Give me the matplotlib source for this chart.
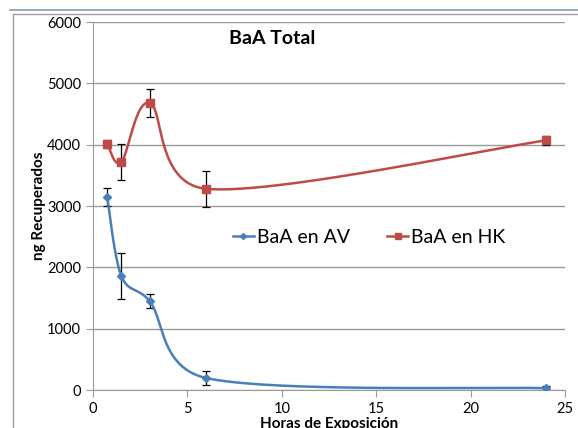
import numpy as np
import matplotlib
matplotlib.use("Agg")
import matplotlib.pyplot as plt
from matplotlib.lines import Line2D

# Datos de exposición
horas = [0.75, 1.5, 3, 6, 24]
baa_av = [3150, 1860, 1450, 195, 30]
err_av = [150, 380, 120, 120, 30]
baa_hk = [4010, 3720, 4680, 3280, 4070]
err_hk = [70, 290, 230, 295, 70]

azul = '#4A7EBB'
rojo = '#BE4B48'

plt.rcParams['font.family'] = ['Lato', 'DejaVu Sans']


def suavizar(ax, x, y, n=80):
    # curva suavizada tipo Excel: Bezier con tangentes limitadas,
    # calculada en pixeles y devuelta en unidades de datos
    p = ax.transData.transform(np.column_stack([x, y]))
    p = np.vstack([p[0], p, p[-1]])
    t = np.linspace(0, 1, n)[:, None]
    puntos = []
    for i in range(1, len(p) - 2):
        p0, p1, p2, p3 = p[i - 1], p[i], p[i + 1], p[i + 2]
        d12 = np.hypot(*(p2 - p1))
        d02 = np.hypot(*(p2 - p0))
        d13 = np.hypot(*(p3 - p1))
        f1 = 1 / 6 if d02 == 0 else min(1 / 6, 0.5 * d12 / d02)
        f2 = 1 / 6 if d13 == 0 else min(1 / 6, 0.5 * d12 / d13)
        c1 = p1 + f1 * (p2 - p0)
        c2 = p2 - f2 * (p3 - p1)
        b = ((1 - t) ** 3 * p1 + 3 * (1 - t) ** 2 * t * c1
             + 3 * (1 - t) * t ** 2 * c2 + t ** 3 * p2)
        puntos.append(b)
    puntos = ax.transData.inverted().transform(np.vstack(puntos))
    return puntos[:, 0], puntos[:, 1]


fig = plt.figure(figsize=(5.78, 4.28), dpi=100)

# marco del grafico
fig.add_artist(Line2D([10 / 578, 1], [1 - 10 / 428] * 2, color='#7F9DB9', lw=1.2))
fig.add_artist(Line2D([13 / 578, 1], [1 - 14 / 428] * 2, color='#A0A0A0', lw=1))
fig.add_artist(Line2D([13 / 578] * 2, [0, 1 - 14 / 428], color='#A0A0A0', lw=1))

ax = fig.add_axes([93 / 578, 1 - 390 / 428, 472 / 578, 368 / 428])
ax.set_xlim(0, 25)
ax.set_ylim(0, 6000)

xa, ya = suavizar(ax, horas, baa_av)
ax.plot(xa, ya, color=azul, lw=1.8, zorder=3)
ax.errorbar(horas, baa_av, yerr=err_av, fmt='none', ecolor='black',
            elinewidth=0.9, capsize=3, capthick=0.9, zorder=2)
ax.plot(horas, baa_av, 'D', color=azul, ms=4, zorder=4)

xh, yh = suavizar(ax, horas, baa_hk)
ax.plot(xh, yh, color=rojo, lw=1.8, zorder=3)
ax.errorbar(horas, baa_hk, yerr=err_hk, fmt='none', ecolor='black',
            elinewidth=0.9, capsize=3, capthick=0.9, zorder=2)
ax.plot(horas, baa_hk, 's', color=rojo, ms=6, zorder=4)

ax.set_xticks(range(0, 26, 5))
ax.set_yticks(range(0, 6001, 1000))
ax.yaxis.grid(True, color='#9A9A9A', lw=1)
ax.set_axisbelow(True)
for lado in ['top', 'right']:
    ax.spines[lado].set_visible(False)
ax.spines['left'].set_color('#9A9A9A')
ax.spines['bottom'].set_color('#9A9A9A')
ax.tick_params(axis='both', colors='#9A9A9A', labelcolor='black', labelsize=10.5,
               length=5, direction='out')

ax.text(0.38, 0.955, 'BaA Total', transform=ax.transAxes, ha='center', va='center',
        fontsize=14, fontweight='bold')
ax.set_xlabel('Horas de Exposición', fontsize=11, fontweight='bold', labelpad=1)
ax.set_ylabel('ng Recuperados', fontsize=11, fontweight='bold', labelpad=1)

manejadores = [Line2D([], [], color=azul, marker='D', ms=3, lw=1.8),
               Line2D([], [], color=rojo, marker='s', ms=5, lw=1.8)]
ax.legend(manejadores, ['BaA en AV', 'BaA en HK'], loc='center', ncol=2,
          bbox_to_anchor=(0.585, 0.415), frameon=False, fontsize=14,
          handlelength=1.1, handletextpad=0.15, columnspacing=1.9)

fig.savefig('out.png', dpi=100)
